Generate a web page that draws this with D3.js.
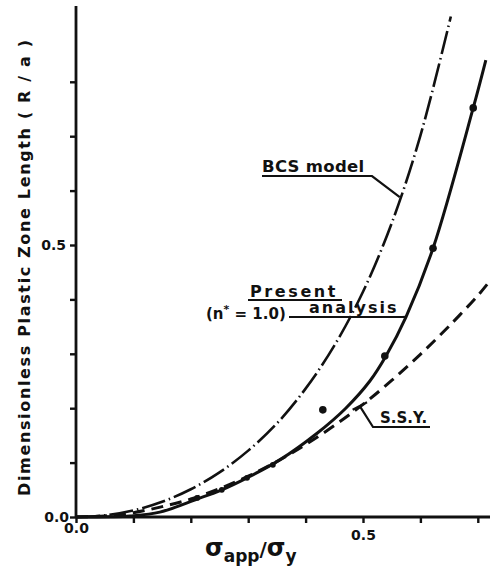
<!DOCTYPE html>
<html><head><meta charset="utf-8">
<script src="https://cdn.jsdelivr.net/npm/d3@7"></script>
<style>
html,body{margin:0;padding:0;background:#fff;}
text{font-family:"DejaVu Sans",sans-serif;font-weight:bold;fill:#111;}
</style></head>
<body>
<svg id="chart" width="490" height="574"></svg>
<script>
// ---- data ----
const bcsX = [0, 0.05, 0.10, 0.15, 0.20, 0.25, 0.30, 0.35, 0.40, 0.45, 0.50, 0.55, 0.60, 0.653];
const bcsY = [0, 0.003, 0.012, 0.028, 0.051, 0.082, 0.122, 0.172, 0.236, 0.315, 0.414, 0.540, 0.701, 0.92];

const presentX = [0, 0.06, 0.094, 0.146, 0.211, 0.254, 0.298, 0.355, 0.420, 0.470, 0.512, 0.540, 0.575, 0.622, 0.692, 0.714];
const presentY = [0, 0.0005, 0.002, 0.009, 0.033, 0.050, 0.072, 0.105, 0.154, 0.200, 0.250, 0.296, 0.368, 0.494, 0.752, 0.840];

const ssyX = [0, 0.05, 0.10, 0.15, 0.20, 0.25, 0.30, 0.35, 0.40, 0.45, 0.50, 0.55, 0.60, 0.65, 0.70, 0.718];
const ssyY = [0, 0.002, 0.008, 0.019, 0.033, 0.052, 0.075, 0.102, 0.133, 0.168, 0.207, 0.251, 0.299, 0.351, 0.407, 0.430];

const dotX = [0.692, 0.622, 0.538, 0.430];
const dotY = [0.752, 0.494, 0.296, 0.197];
const smallDotX = [0.343, 0.298, 0.254, 0.211];
const smallDotY = [0.096, 0.072, 0.050, 0.035];

const xTicks = [0, 0.1, 0.2, 0.3, 0.4, 0.5, 0.6, 0.7];
const yTicks = [0, 0.1, 0.2, 0.3, 0.4, 0.5, 0.6, 0.7, 0.8];
const xTickLabels = {0: "0.0", 0.5: "0.5"};
const yTickLabels = {0: "0.0", 0.5: "0.5"};

// ---- scales ----
const svg = d3.select("#chart");
const x = d3.scaleLinear().domain([0, 0.5]).range([76, 363]);
const y = d3.scaleLinear().domain([0, 0.5]).range([517, 245]);
const xMax = x.invert(490), yMax = y.invert(6);

// axes
const xAxis = d3.axisBottom(x).tickValues(xTicks).tickSize(6).tickPadding(2)
  .tickFormat(d => xTickLabels[d] || "");
const gx = svg.append("g").attr("transform", `translate(0,${y(0)})`).call(xAxis);
gx.select(".domain").attr("d", `M${x(0)},0H${x(xMax)}`).attr("stroke", "#111").attr("stroke-width", 2.8);
gx.selectAll(".tick line").attr("stroke", "#111").attr("stroke-width", 2.4);
gx.selectAll(".tick text").attr("font-size", 14).attr("font-family", "DejaVu Sans").attr("font-weight", "bold").attr("fill", "#111");
gx.selectAll(".tick").filter(d => d === 0).select("text").attr("dy", "0.6em");
gx.selectAll(".tick").filter(d => d === 0.5).select("text").attr("dy", "1.05em");

const yAxis = d3.axisLeft(y).tickValues(yTicks).tickSize(6).tickPadding(1)
  .tickFormat(d => yTickLabels[d] || "");
const gy = svg.append("g").attr("transform", `translate(${x(0)},0)`).call(yAxis);
gy.select(".domain").attr("d", `M0,${y(0)}V${y(yMax)}`).attr("stroke", "#111").attr("stroke-width", 2.8);
gy.selectAll(".tick line").attr("stroke", "#111").attr("stroke-width", 2.4);
gy.selectAll(".tick text").attr("font-size", 14).attr("font-family", "DejaVu Sans").attr("font-weight", "bold").attr("fill", "#111");
gy.selectAll(".tick").filter(d => d === 0.5).select("text").attr("dx", "-3");

// curves
const line = d3.line().x(d => x(d[0])).y(d => y(d[1])).curve(d3.curveCatmullRom.alpha(0.5));
const zip = (a, b) => a.map((v, i) => [v, b[i]]);

svg.append("path").datum(zip(ssyX, ssyY)).attr("d", line)
  .attr("fill", "none").attr("stroke", "#111").attr("stroke-width", 3)
  .attr("stroke-dasharray", "12,7");
svg.append("path").datum(zip(bcsX, bcsY)).attr("d", line)
  .attr("fill", "none").attr("stroke", "#111").attr("stroke-width", 2.6)
  .attr("stroke-dasharray", "24,4,1.5,4");
svg.append("path").datum(zip(presentX, presentY)).attr("d", line)
  .attr("fill", "none").attr("stroke", "#111").attr("stroke-width", 3);

svg.selectAll("circle.big").data(zip(dotX, dotY)).enter().append("circle")
  .attr("cx", d => x(d[0])).attr("cy", d => y(d[1])).attr("r", 3.8).attr("fill", "#111");
svg.selectAll("circle.small").data(zip(smallDotX, smallDotY)).enter().append("circle")
  .attr("cx", d => x(d[0])).attr("cy", d => y(d[1])).attr("r", 2.9).attr("fill", "#111");

// annotations
const ann = svg.append("g");
const lead = (pts) => ann.append("path").attr("d", d3.line()(pts))
  .attr("fill", "none").attr("stroke", "#111").attr("stroke-width", 2.2);

// BCS model
ann.append("text").attr("x", 262).attr("y", 172).attr("font-size", 16.5).attr("letter-spacing", 0.3).text("BCS model");
lead([[262, 176], [372, 176], [x(0.564), y(0.588)]]);

// Present analysis
ann.append("text").attr("x", 250).attr("y", 297).attr("font-size", 16).attr("letter-spacing", 2.6).text("Present");
lead([[248, 300], [342, 300]]);
const nt = ann.append("text").attr("x", 206).attr("y", 319).attr("font-size", 15);
nt.append("tspan").text("(n");
nt.append("tspan").attr("dy", -6).attr("font-size", 11).text("*");
nt.append("tspan").attr("dy", 6).text(" = 1.0)");
ann.append("text").attr("x", 309).attr("y", 313).attr("font-size", 16).attr("letter-spacing", 2).text("analysis");
lead([[289, 317], [402, 317], [x(0.575), y(0.368)]]);

// S.S.Y.
ann.append("text").attr("x", 380).attr("y", 423).attr("font-size", 15).text("S.S.Y.");
lead([[430, 427], [373, 427], [x(0.495), y(0.203)]]);
lead([[x(0.482), y(0.197)], [x(0.507), y(0.211)]]);

// axis titles
svg.append("text").attr("transform", `translate(30,${268}) rotate(-90)`)
  .attr("text-anchor", "middle").attr("font-size", 16)
  .attr("textLength", 456).attr("lengthAdjust", "spacing")
  .text("Dimensionless Plastic Zone Length ( R / a )");

const xt = svg.append("text").attr("x", 205).attr("y", 556).attr("font-size", 24).attr("font-weight", "normal");
xt.append("tspan").text("σ");
xt.append("tspan").attr("dy", 6).attr("font-size", 17).text("app");
xt.append("tspan").attr("dy", -6).attr("font-size", 20).text("/");
xt.append("tspan").attr("font-size", 24).text("σ");
xt.append("tspan").attr("dy", 6).attr("font-size", 17).text("y");
</script>
</body></html>
